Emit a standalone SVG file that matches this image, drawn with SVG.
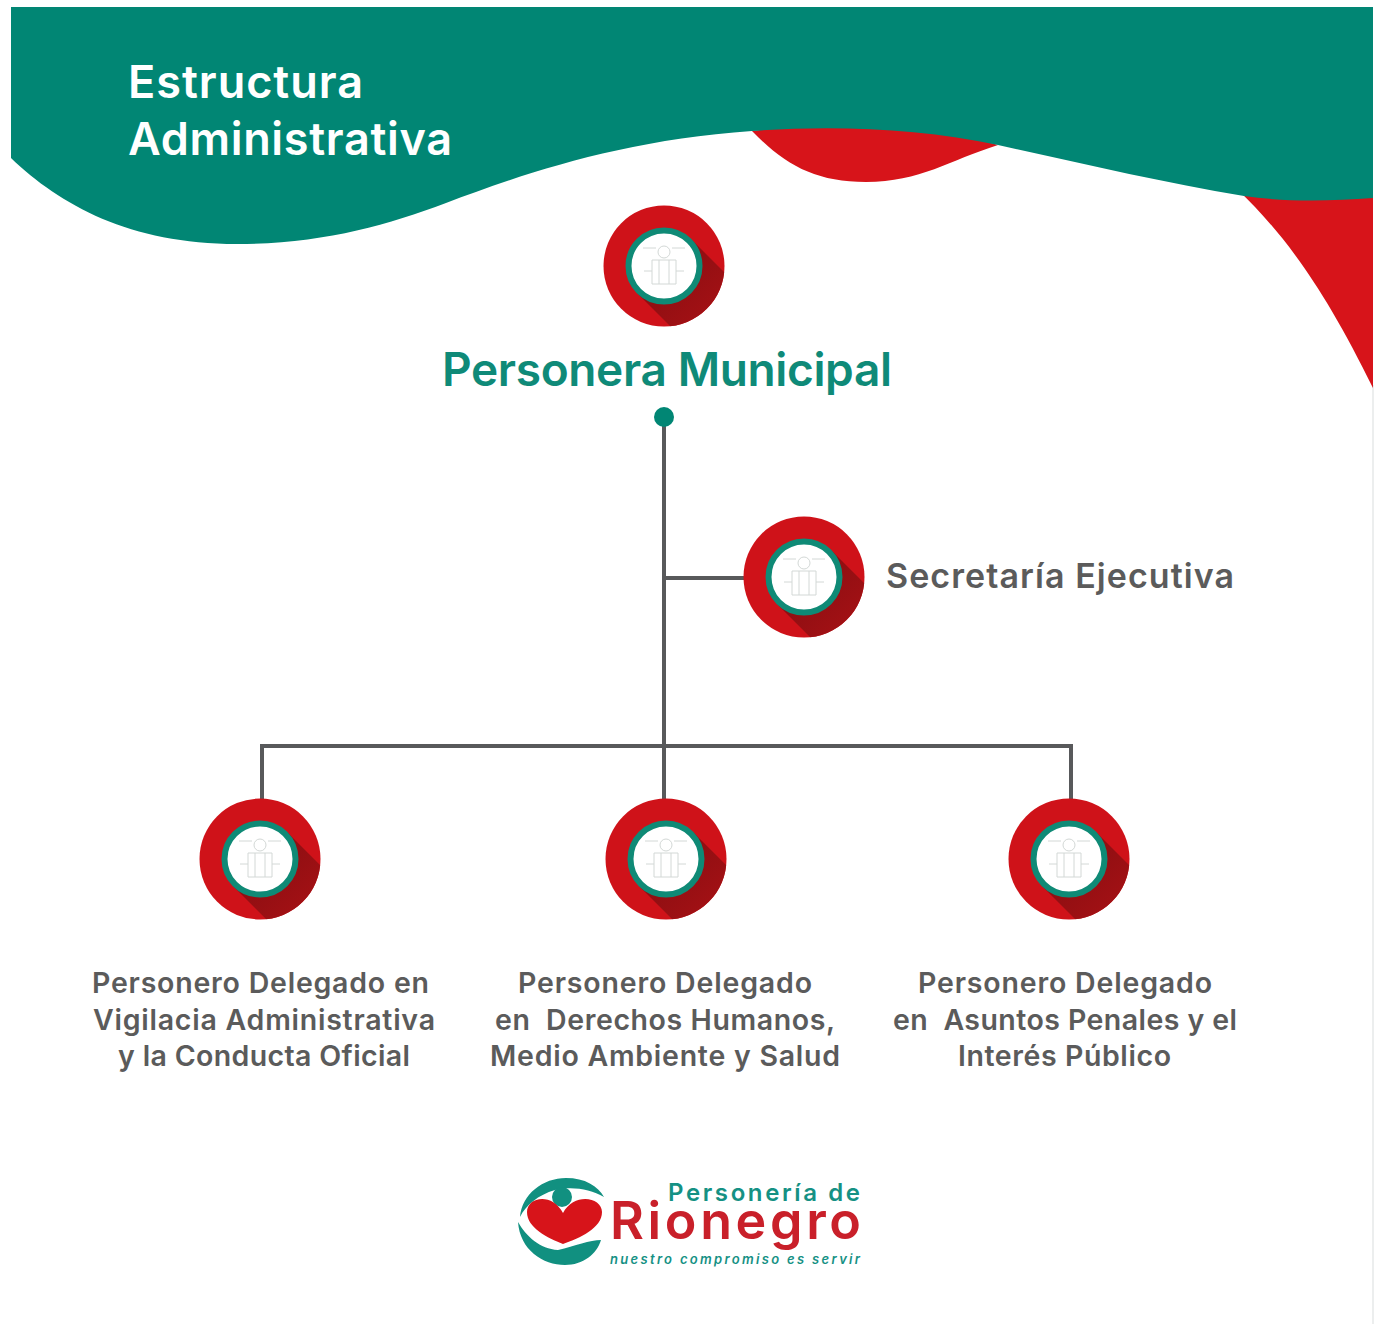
<svg xmlns="http://www.w3.org/2000/svg" width="1379" height="1324" viewBox="0 0 1379 1324">
<style>
text{font-family:"Inter","Liberation Sans",sans-serif;font-weight:600;font-variant-ligatures:none}
.t{fill:#fff;font-size:45px}
.g{fill:#5b5b5b;font-size:28.5px}
.c{fill:none;stroke:#58595b;stroke-width:4}
.ic{fill:none;stroke:#d3d8d6;stroke-width:1}
</style>
<defs>
<linearGradient id="shade" x1="0" y1="0" x2="1" y2="1"><stop offset="0" stop-color="#7f0d10"/><stop offset="1" stop-color="#b01216"/></linearGradient>
<clipPath id="disc"><circle r="60.5"/></clipPath>
<g id="badge">
<circle r="60.5" fill="#cf1219"/>
<path clip-path="url(#disc)" d="M-27 27L27-27L75 21L75 75L21 75Z" fill="url(#shade)"/>
<circle r="35.5" fill="#fff" stroke="#0f8a76" stroke-width="6"/>
<g class="ic">
<circle cy="-14" r="6"/><path d="M-21-18H-8M8-18H21M-12-6H12V18H-12ZM-5-6V18M5-6V18M-20 5H-12M12 5H20"/>
</g>
</g>
</defs>
<rect width="1379" height="1324" fill="#fff"/>
<rect x="1372" y="385" width="2" height="939" fill="#eceeee"/>
<g id="banner">
<path d="M752 131C785 165 815 182 866 182C920 182 950 160 998 145C920 120 830 120 752 131Z" fill="#d7141a"/>
<path d="M1238 190H1373V388C1325 290 1285 235 1238 190Z" fill="#d7141a"/>
<path d="M11 7H1373V198C1330 201 1285 202 1244 196C1160 182 1080 163 998 145C920 128 830 125 752 131C620 140 520 175 446 203C385 226 320 244 237 244C130 244 60 205 11 158Z" fill="#018674"/>
<text class="t" x="128" y="98" textLength="235" lengthAdjust="spacing">Estructura</text>
<text class="t" x="128" y="155" textLength="324" lengthAdjust="spacing">Administrativa</text>
</g>
<g id="connectors">
<path class="c" d="M664 417V800M664 578H745M262 800V746H1071V800"/>
<circle cx="664" cy="417" r="10" fill="#018674"/>
</g>
<g id="node-personera">
<use href="#badge" x="664" y="266"/>
<text x="442" y="386" font-size="46" fill="#0f8a78" textLength="450" lengthAdjust="spacing">Personera Municipal</text>
</g>
<g id="node-secretaria">
<use href="#badge" x="804" y="577"/>
<text x="886" y="588" font-size="34" fill="#5b5b5b" textLength="348" lengthAdjust="spacing">Secretaría Ejecutiva</text>
</g>
<g id="node-vigilancia">
<use href="#badge" x="260" y="859"/>
<text class="g" x="92" y="993" textLength="337" lengthAdjust="spacing">Personero Delegado en</text>
<text class="g" x="93" y="1030" textLength="342" lengthAdjust="spacing">Vigilacia Administrativa</text>
<text class="g" x="118" y="1066" textLength="292" lengthAdjust="spacing">y la Conducta Oficial</text>
</g>
<g id="node-derechos">
<use href="#badge" x="666" y="859"/>
<text class="g" x="518" y="993" textLength="294" lengthAdjust="spacing">Personero Delegado</text>
<text class="g" x="495" y="1030" textLength="340" lengthAdjust="spacing" xml:space="preserve">en  Derechos Humanos,</text>
<text class="g" x="490" y="1066" textLength="350" lengthAdjust="spacing">Medio Ambiente y Salud</text>
</g>
<g id="node-penales">
<use href="#badge" x="1069" y="859"/>
<text class="g" x="918" y="993" textLength="294" lengthAdjust="spacing">Personero Delegado</text>
<text class="g" x="893" y="1030" textLength="344" lengthAdjust="spacing" xml:space="preserve">en  Asuntos Penales y el</text>
<text class="g" x="958" y="1066" textLength="213" lengthAdjust="spacing">Interés Público</text>
</g>
<g id="logo">
<path d="M520 1217C522 1194 543 1178 566 1178C585 1178 598 1186 604 1197C590 1189 572 1186 555 1190C538 1195 526 1205 520 1217Z" fill="#119080"/>
<path d="M518 1222C520 1250 543 1265 565 1265C583 1265 597 1254 601 1240C590 1240 575 1246 558 1250C540 1249 526 1236 518 1222Z" fill="#119080"/>
<circle cx="562" cy="1197" r="10" fill="#119080"/>
<path d="M563 1244C548 1238 527 1228 527 1212C527 1197 552 1192 563 1213C574 1192 602 1197 602 1212C602 1228 580 1238 563 1244Z" fill="#d7141a"/>
<text x="668" y="1201" font-size="24" font-weight="400" fill="#159184" textLength="192" lengthAdjust="spacing">Personería de</text>
<text x="610" y="1239" font-size="52" font-weight="400" fill="#c9202a" textLength="251" lengthAdjust="spacing">Rionegro</text>
<text x="610" y="1264" font-size="13" font-style="italic" fill="#159184" textLength="250" lengthAdjust="spacing">nuestro compromiso es servir</text>
</g>
</svg>
